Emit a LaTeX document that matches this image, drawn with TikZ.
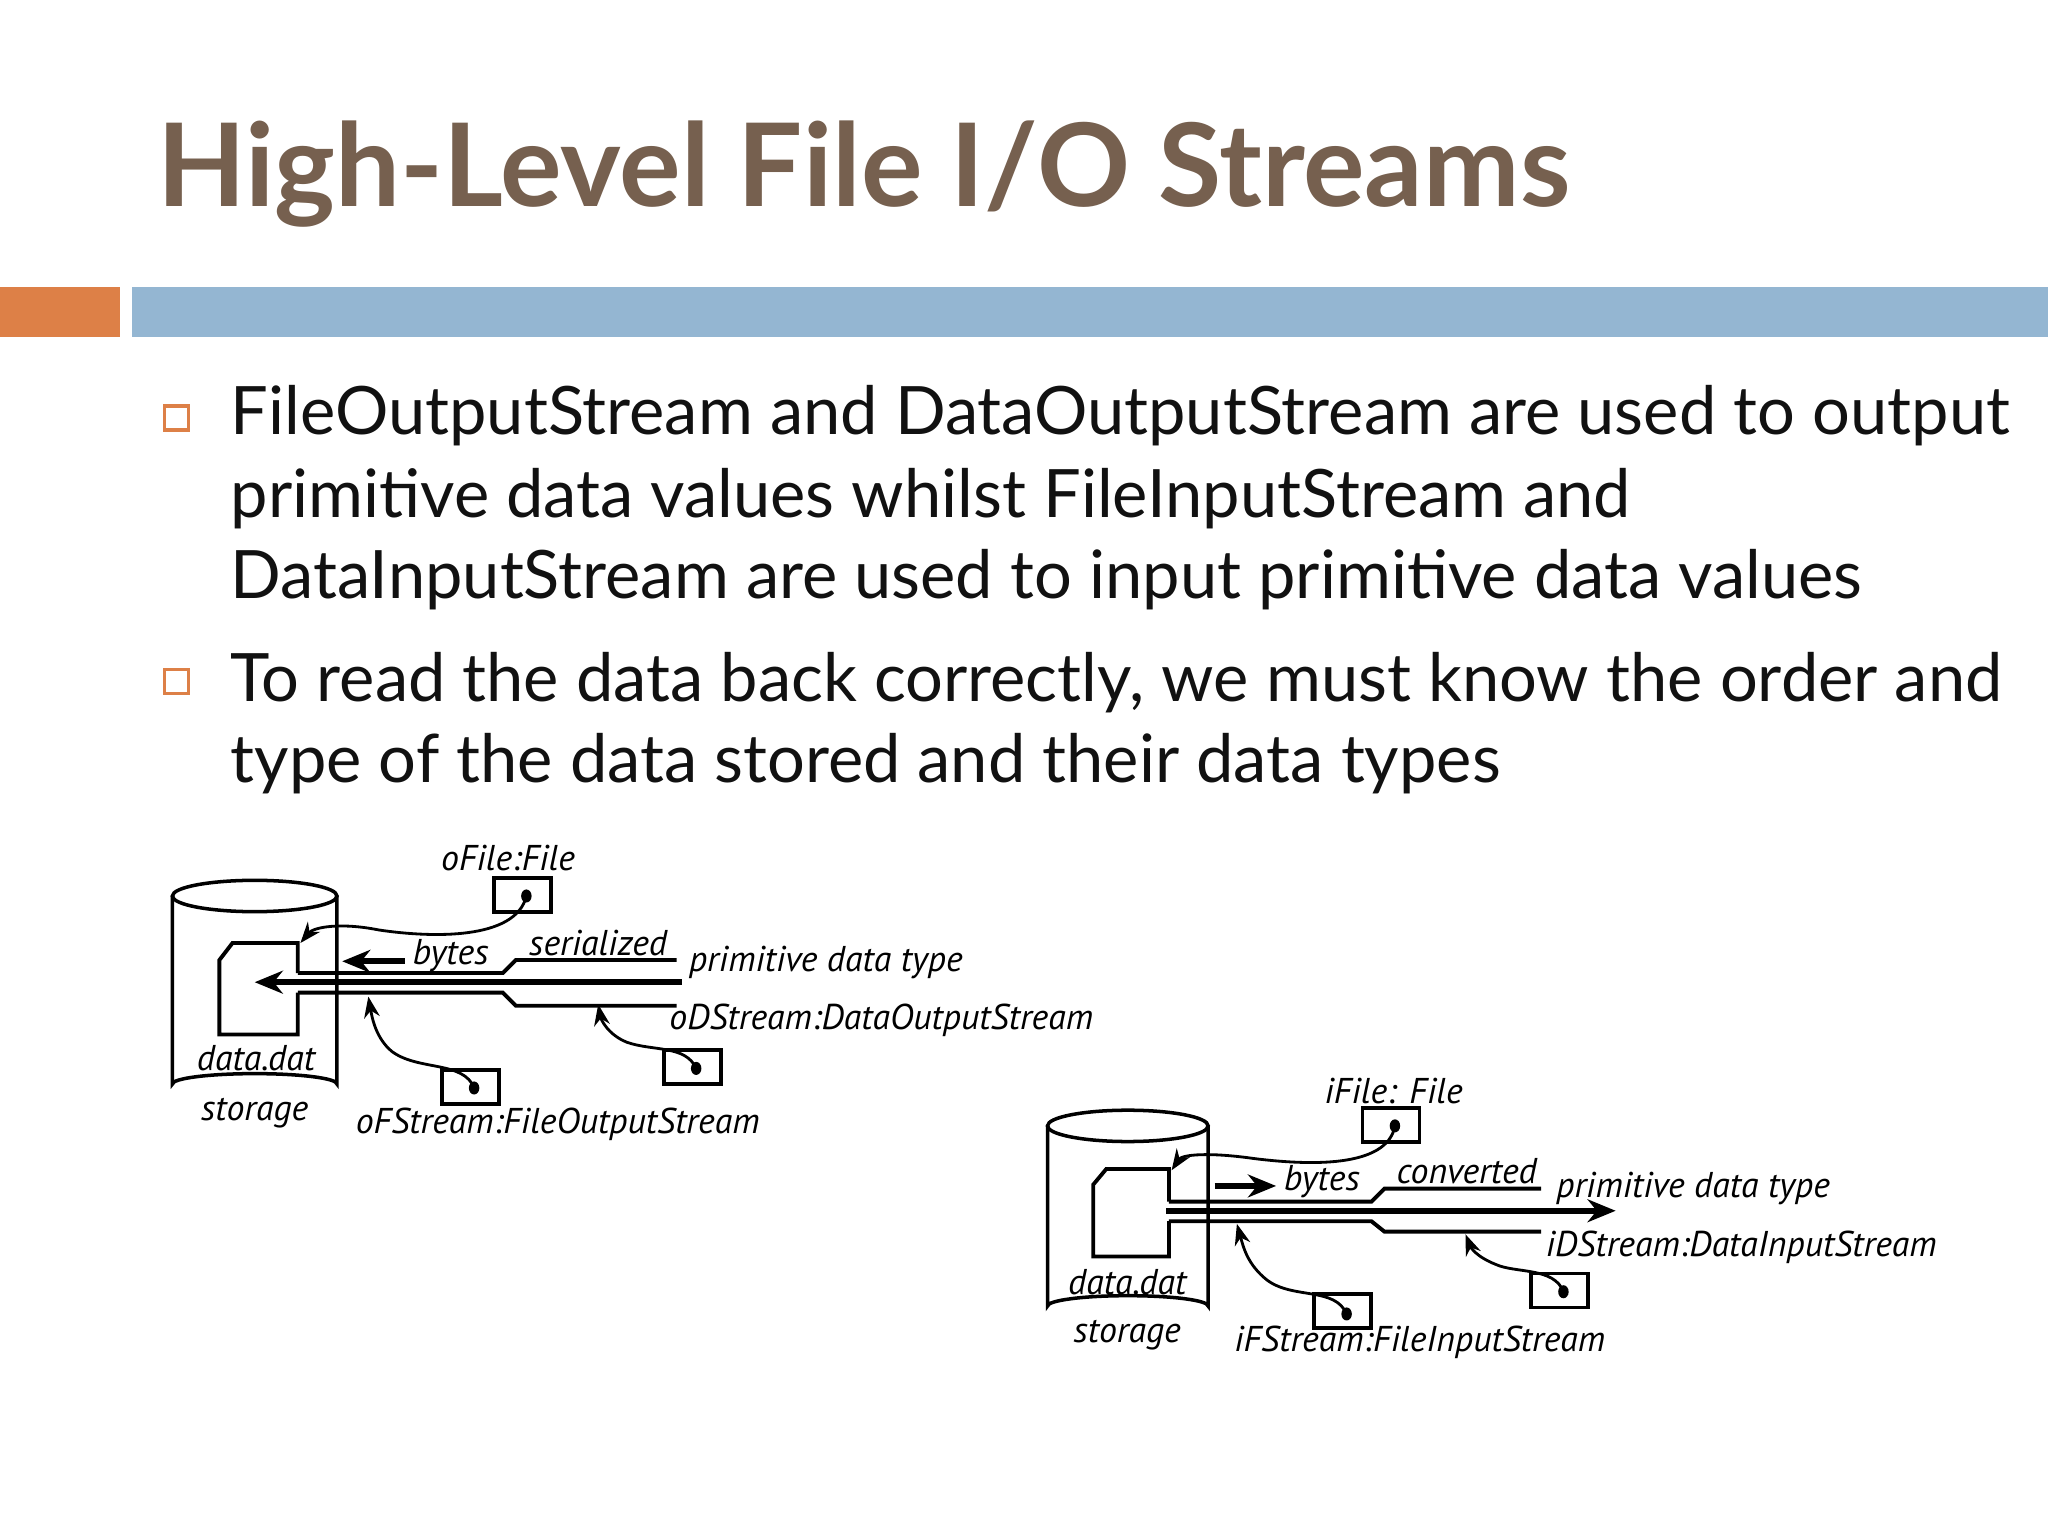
\documentclass[tikz,border=0pt]{standalone}
\usepackage{fontspec}
\setmainfont{Lato}
\newfontfamily\diag{PT Sans}
\usetikzlibrary{arrows.meta}
\definecolor{titlec}{HTML}{76604F}
\definecolor{orangec}{HTML}{DD8047}
\definecolor{bluec}{HTML}{94B6D2}
\definecolor{textc}{HTML}{111111}
\tikzset{
  ln/.style={line width=1.1pt},
  dl/.style={font=\diag\itshape\fontsize{10.2}{12}\selectfont, inner sep=0pt},
  refbox/.style={draw, line width=1.1pt, minimum width=0.57cm, minimum height=0.34cm, inner sep=0pt},
  ptr/.style={line width=0.8pt, -{Stealth[length=6pt,width=4.5pt]}},
  bigarr/.style={line width=1.6pt, -{Stealth[length=8pt,width=6.5pt]}},
  bul/.style={draw=orangec, line width=0.9pt, minimum size=0.24cm, inner sep=0pt},
  body/.style={font=\fontsize{19}{23}\selectfont, anchor=base west, inner sep=0pt, text=textc}
}
\begin{document}
\begin{tikzpicture}[x=0.01306cm,y=-0.01306cm]
\useasboundingbox (0,0) rectangle (1568,1176);
\fill[white] (0,0) rectangle (1568,1176);
\node[anchor=base west, inner sep=0pt, text=titlec, font=\bfseries\fontsize{32.8}{40}\selectfont] (title) at (120,158) {High-Level File I/O Streams};
\fill[orangec] (0,220) rectangle (92,258);
\fill[bluec] (101,220) rectangle (1568,258);
\node[bul] (b1) at (135,320) {};
\node[bul] (b2) at (135,522) {};
\node[body] (t1) at (176,333) {FileOutputStream and DataOutputStream are used to output};
\node[body] (t2) at (176,396) {primitive data values whilst FileInputStream and};
\node[body] (t3) at (176,458) {DataInputStream are used to input primitive data values};
\node[body] (t4) at (176,537) {To read the data back correctly, we must know the order and};
\node[body] (t5) at (176,599) {type of the data stored and their data types};

% ===== left diagram =====
\begin{scope}
\draw[line width=1pt] (132,686) -- (132,830) arc[start angle=180,end angle=360,x radius=63,y radius=8] -- (258,686);
\draw[line width=1pt] (195,686) ellipse[x radius=63,y radius=12];
\draw[ln] (228,745) -- (228,722) -- (178,722) -- (168,735) -- (168,792) -- (228,792) -- (228,760);
\draw[ln] (228,745) -- (385,745) -- (395,735) -- (518,735);
\draw[ln] (228,760) -- (385,760) -- (395,770) -- (518,770);
\coordinate (ls) at (522,752);
\coordinate (le) at (195,752);
\draw[bigarr] (ls) -- (le);
\coordinate (lbs) at (310,736);
\coordinate (lbe) at (262,736);
\draw[bigarr] (lbs) -- (lbe);
\node[dl] (lbytes) at (345,732) {bytes};
\node[dl] (lser) at (458,722) {serialized};
\node[dl,anchor=west] (lprim) at (527,737) {primitive data type};
\node[dl,anchor=west] (lods) at (512,781) {oDStream:DataOutputStream};
\node[dl] (lofile) at (389,657) {oFile:File};
\node[dl] (ldat) at (196,810) {data.dat};
\node[dl] (lsto) at (195,852) {storage};
\node[dl] (lofs) at (427,861) {oFStream:FileOutputStream};
\node[refbox] (lb1) at (400,685) {};
\node[refbox] (lb2) at (360,832) {};
\node[refbox] (lb3) at (530,817) {};
\fill (403,686) ellipse[x radius=4,y radius=5];
\fill (363,833) ellipse[x radius=4,y radius=5];
\fill (533,818) ellipse[x radius=4,y radius=5];
\coordinate (la1) at (230,722);
\coordinate (la2) at (282,763);
\coordinate (la3) at (458,769);
\draw[ptr] (403,686) .. controls (395,720) and (330,718) .. (290,712) .. controls (260,706) and (240,710) .. (la1);
\draw[ptr] (363,833) .. controls (355,812) and (320,820) .. (300,805) .. controls (288,795) and (285,780) .. (la2);
\draw[ptr] (533,818) .. controls (525,800) and (500,805) .. (480,798) .. controls (465,792) and (460,780) .. (la3);
\end{scope}

% ===== right diagram =====
\begin{scope}
\draw[line width=1pt] (802,862) -- (802,1000) arc[start angle=180,end angle=360,x radius=61.5,y radius=8] -- (925,862);
\draw[line width=1pt] (863.5,862) ellipse[x radius=61.5,y radius=12];
\draw[ln] (895,920) -- (895,895) -- (847,895) -- (837,907) -- (837,962) -- (895,962) -- (895,935);
\draw[ln] (895,920) -- (1050,920) -- (1060,910) -- (1180,910);
\draw[ln] (895,935) -- (1050,935) -- (1060,943) -- (1180,943);
\coordinate (rs) at (893,927);
\coordinate (re) at (1237,927);
\draw[bigarr] (rs) -- (re);
\coordinate (rbs) at (930,908);
\coordinate (rbe) at (977,908);
\draw[bigarr] (rbs) -- (rbe);
\node[dl] (rbytes) at (1012,905) {bytes};
\node[dl] (rconv) at (1123,897) {converted};
\node[dl,anchor=west] (rprim) at (1191,910) {primitive data type};
\node[dl,anchor=west] (rids) at (1183,955) {iDStream:DataInputStream};
\node[dl] (rifile) at (1067,835) {iFile: File};
\node[dl] (rdat) at (863,982) {data.dat};
\node[dl] (rsto) at (863,1022) {storage};
\node[dl] (rifs) at (1087,1028) {iFStream:FileInputStream};
\node[refbox] (rb1) at (1065,861) {};
\node[refbox] (rb2) at (1028,1004) {};
\node[refbox] (rb3) at (1194,988) {};
\fill (1068,862) ellipse[x radius=4,y radius=5];
\fill (1031,1006) ellipse[x radius=4,y radius=5];
\fill (1197,989) ellipse[x radius=4,y radius=5];
\coordinate (ra1) at (897,896);
\coordinate (ra2) at (947,937);
\coordinate (ra3) at (1122,945);
\draw[ptr] (1068,862) .. controls (1062,895) and (1000,892) .. (960,887) .. controls (925,882) and (905,884) .. (ra1);
\draw[ptr] (1031,1006) .. controls (1022,985) and (990,995) .. (970,980) .. controls (955,968) and (952,955) .. (ra2);
\draw[ptr] (1197,989) .. controls (1190,970) and (1160,975) .. (1145,968) .. controls (1130,962) and (1126,955) .. (ra3);
\end{scope}
\end{tikzpicture}
\end{document}
